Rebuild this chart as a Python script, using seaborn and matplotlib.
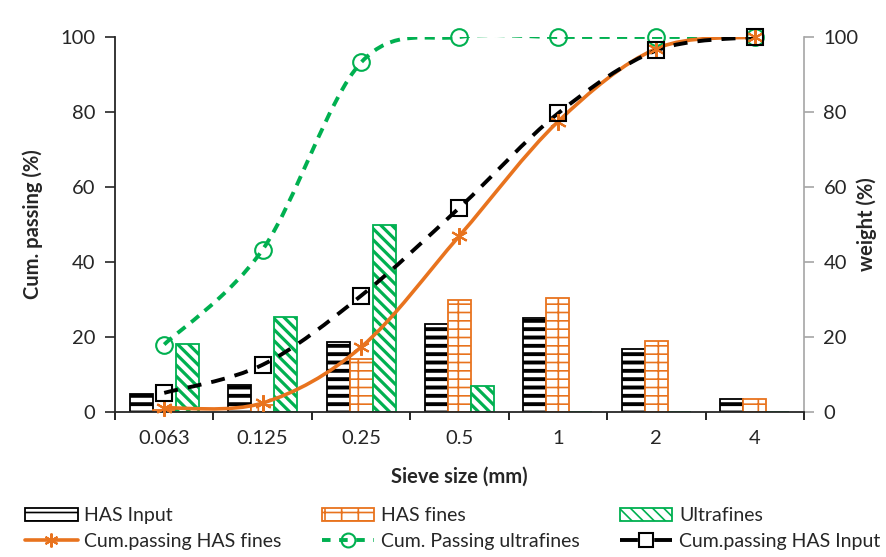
import numpy as np
import pandas as pd
import matplotlib
matplotlib.use("Agg")
import matplotlib.pyplot as plt
import matplotlib.patches as mpatches
from matplotlib.lines import Line2D
from matplotlib.path import Path
import seaborn as sns

# ------------------ Data ------------------
sizes = ['0.063', '0.125', '0.25', '0.5', '1', '2', '4']

has_input = [4.7, 7.3, 18.7, 23.4, 25.0, 16.8, 3.4]
has_fines = [0.6, 1.8, 14.2, 30.0, 30.5, 19.0, 3.4]
ultrafines = [18.2, 25.3, 49.8, 6.9, 0.0, 0.0, 0.0]

cum_has_input = [5.1, 12.6, 31.0, 54.5, 79.6, 96.4, 100]
cum_has_fines = [1.1, 2.4, 17.3, 47.0, 77.4, 96.9, 100]
cum_ultrafines = [18.0, 43.3, 93.2, 100, 100, 100, 100]

bar_names = ['HAS Input', 'HAS fines', 'Ultrafines']

GREEN = '#00B050'
ORANGE = '#E8731E'

# ------------------ Style ------------------
sns.set_style('ticks')
plt.rcParams['font.family'] = ['Lato', 'DejaVu Sans']
plt.rcParams['hatch.linewidth'] = 1.2

fig = plt.figure(figsize=(8.86, 5.57), dpi=100)
ax = fig.add_axes([0.1298, 0.2603, 0.7776, 0.6733])
ax2 = ax.twinx()

# ------------------ Bars (weight, right axis) ------------------
df = pd.DataFrame({
    'size': sizes * 3,
    'weight': has_input + has_fines + ultrafines,
    'series': [n for n in bar_names for _ in sizes],
})
sns.barplot(data=df, x='size', y='weight', hue='series', hue_order=bar_names,
            order=sizes, ax=ax2, width=0.7, gap=0.0, legend=False,
            err_kws={'linewidth': 0})

bar_style = [
    dict(ec='black', hatch='--', hlw=2.8),
    dict(ec=ORANGE, hatch='--|', hlw=1.2),
    dict(ec=GREEN, hatch='\\\\\\', hlw=2.3),
]
for cont, st in zip(ax2.containers, bar_style):
    for bar in cont:
        bar.set_facecolor('white')
        bar.set_edgecolor(st['ec'])
        bar.set_hatch(st['hatch'])
        bar.set_linewidth(1.3)
        if hasattr(bar, 'set_hatch_linewidth'):
            bar.set_hatch_linewidth(st['hlw'])


# ------------------ Smoothed cumulative curves (left axis) ------------------
def smooth_path(xs, ys):
    pts = np.column_stack([xs, ys]).astype(float)
    n = len(pts)
    verts = [pts[0]]
    codes = [Path.MOVETO]
    for i in range(n - 1):
        p0 = pts[max(i - 1, 0)]
        p1 = pts[i]
        p2 = pts[i + 1]
        p3 = pts[min(i + 2, n - 1)]
        verts += [p1 + (p2 - p0) / 6, p2 - (p3 - p1) / 6, p2]
        codes += [Path.CURVE4] * 3
    return Path(verts, codes)


xpos = np.arange(len(sizes))

# values, colour, line style, width, marker, label, legend line style
curves = [
    (cum_ultrafines, GREEN, (0, (2.6, 1.9)), 2.8, 'o', 'Cum. Passing ultrafines', (0, (2.2, 2.2))),
    (cum_has_fines, ORANGE, '-', 2.6, (6, 2, 0), 'Cum.passing HAS fines', '-'),
    (cum_has_input, 'black', (0, (3.6, 2.6)), 2.8, 's', 'Cum.passing HAS Input', (0, (4.6, 4.2))),
]
line_handles = {}
for vals, col, ls, lw, mk, name, leg_ls in curves:
    ax.add_patch(mpatches.PathPatch(smooth_path(xpos, vals), fill=False,
                                    edgecolor=col, lw=lw, linestyle=ls,
                                    capstyle='butt', zorder=3))
    ax.plot(xpos, vals, linestyle='none', marker=mk, markersize=12,
            markerfacecolor='none', markeredgecolor=col, markeredgewidth=1.5,
            clip_on=False, zorder=4)
    line_handles[name] = Line2D([0], [0], color=col, lw=lw, linestyle=leg_ls,
                                marker=mk, markersize=10, markerfacecolor='none',
                                markeredgecolor=col, markeredgewidth=1.5)

ax.set_zorder(ax2.get_zorder() + 1)
ax.patch.set_visible(False)

# ------------------ Axes ------------------
for a in (ax, ax2):
    a.set_xlim(-0.5, len(sizes) - 0.5)
    a.set_ylim(0, 100)
    a.set_yticks(np.arange(0, 101, 20))
    a.spines['top'].set_visible(False)

ax.set_xticks(xpos)
ax.set_xticklabels(sizes)
ax.set_xticks(np.arange(-0.5, len(sizes), 1), minor=True)
ax.tick_params(axis='x', which='major', length=0, pad=13, labelsize=14.5)
ax.tick_params(axis='x', which='minor', length=6, width=1.2, color='black')
ax.tick_params(axis='y', length=7, width=1.2, pad=7, labelsize=14.5)
ax.spines['left'].set_linewidth(1.3)
ax.spines['bottom'].set_linewidth(1.3)
ax.spines['right'].set_visible(False)

ax2.spines['right'].set_color('#A6A6A6')
ax2.spines['right'].set_linewidth(1.2)
ax2.spines['left'].set_visible(False)
ax2.spines['bottom'].set_visible(False)
ax2.tick_params(axis='y', length=7, width=1.2, color='#A6A6A6', pad=7, labelsize=14.5)
ax2.set_xlabel('')

ax.set_xlabel('Sieve size (mm)', fontsize=14.5, fontweight='bold')
ax.xaxis.set_label_coords(0.5, -0.145)
ax.set_ylabel('Cum. passing (%)', fontsize=14.5, fontweight='bold')
ax.yaxis.set_label_coords(-0.104, 0.5)
ax2.set_ylabel('weight (%)', fontsize=14.5, fontweight='bold')
ax2.yaxis.set_label_coords(1.076, 0.5)

# ------------------ Legend ------------------
bar_handles = []
for name, st in zip(bar_names, bar_style):
    p = mpatches.Patch(facecolor='white', edgecolor=st['ec'], hatch=st['hatch'],
                       linewidth=1.3, label=name)
    if hasattr(p, 'set_hatch_linewidth'):
        p.set_hatch_linewidth(st['hlw'])
    bar_handles.append(p)

order = [bar_handles[0], line_handles['Cum.passing HAS fines'],
         bar_handles[1], line_handles['Cum. Passing ultrafines'],
         bar_handles[2], line_handles['Cum.passing HAS Input']]
labels = ['HAS Input', 'Cum.passing HAS fines', 'HAS fines',
          'Cum. Passing ultrafines', 'Ultrafines', 'Cum.passing HAS Input']
fig.legend(order, labels, ncol=3, loc='lower left',
           bbox_to_anchor=(0.025, 0.008, 0.972, 0.1), mode='expand',
           frameon=False, fontsize=14, handlelength=2.7, handleheight=0.65,
           handletextpad=0.35, labelspacing=0.45, borderaxespad=0.0, borderpad=0.15)

fig.savefig('out.png', dpi=100)
